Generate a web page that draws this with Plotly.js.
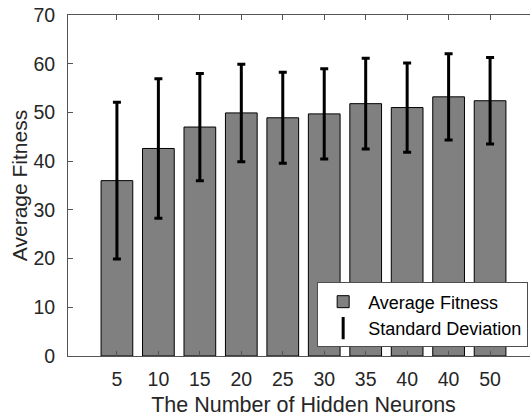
<!DOCTYPE html>
<html>
<head>
<meta charset="utf-8">
<script src="https://cdn.plot.ly/plotly-3.0.1.min.js"></script>
<style>
html, body { margin:0; padding:0; overflow:hidden; background:#fff; }
#chart { width:545px; height:426px; }
</style>
</head>
<body>
<div id="chart"></div>
<script>
// Data
const tickLabels = ["5", "10", "15", "20", "25", "30", "35", "40", "40", "50"];
const avgFitness = [36.0, 42.6, 47.0, 49.9, 48.9, 49.7, 51.8, 51.0, 53.2, 52.4];
const stdDev = [16.1, 14.3, 11.0, 10.0, 9.35, 9.25, 9.3, 9.15, 8.85, 8.9];
const positions = tickLabels.map((_, i) => i);

const font = "Liberation Sans, Arial, Helvetica, sans-serif";
const axisColor = "#555555";
const textColor = "#262626";

const traces = [
  {
    type: "bar",
    name: "Average Fitness",
    x: positions,
    y: avgFitness,
    width: 0.765,
    marker: { color: "#808080", line: { color: "#000000", width: 1 } },
    hoverinfo: "y"
  },
  {
    type: "scatter",
    mode: "markers",
    x: positions,
    y: avgFitness,
    showlegend: false,
    marker: { size: 1, opacity: 0 },
    error_y: { type: "data", array: stdDev, visible: true, color: "#000000", thickness: 3, width: 4 },
    hoverinfo: "skip"
  },
  {
    type: "scatter",
    mode: "markers",
    name: "Standard Deviation",
    x: [null],
    y: [null],
    marker: { symbol: "line-ns-open", size: 16, color: "#000000", line: { color: "#000000", width: 3 } }
  }
];

const layout = {
  width: 545,
  height: 426,
  margin: { l: 68, r: 6, t: 15, b: 70 },
  paper_bgcolor: "#ffffff",
  plot_bgcolor: "#ffffff",
  font: { family: font, size: 19.5, color: textColor },
  showlegend: true,
  xaxis: {
    type: "linear",
    range: [-1.18, 10.18],
    tickmode: "array",
    tickvals: positions,
    ticktext: tickLabels,
    ticks: "inside",
    ticklen: 5,
    tickcolor: axisColor,
    showline: true,
    linecolor: axisColor,
    linewidth: 1,
    mirror: "ticks",
    showgrid: false,
    zeroline: false,
    ticklabelstandoff: 6,
    tickfont: { size: 19.5, color: textColor },
    title: { text: "The Number of Hidden Neurons", font: { size: 21.5, color: textColor }, standoff: 7 }
  },
  yaxis: {
    range: [0, 70],
    tickmode: "linear",
    tick0: 0,
    dtick: 10,
    ticks: "inside",
    ticklen: 5,
    tickcolor: axisColor,
    showline: true,
    linecolor: axisColor,
    linewidth: 1,
    mirror: "ticks",
    showgrid: false,
    zeroline: false,
    ticklabelstandoff: 8,
    tickfont: { size: 19.5, color: textColor },
    title: { text: "Average Fitness", font: { size: 21, color: textColor }, standoff: 0 }
  },
  legend: {
    x: 0.977,
    xanchor: "right",
    y: 0.025,
    yanchor: "bottom",
    bgcolor: "#ffffff",
    bordercolor: "#4d4d4d",
    borderwidth: 1,
    font: { size: 18, color: "#000000" },
    itemwidth: 40,
    tracegroupgap: 0
  }
};

Plotly.newPlot("chart", traces, layout, { displayModeBar: false, staticPlot: true });
</script>
</body>
</html>
